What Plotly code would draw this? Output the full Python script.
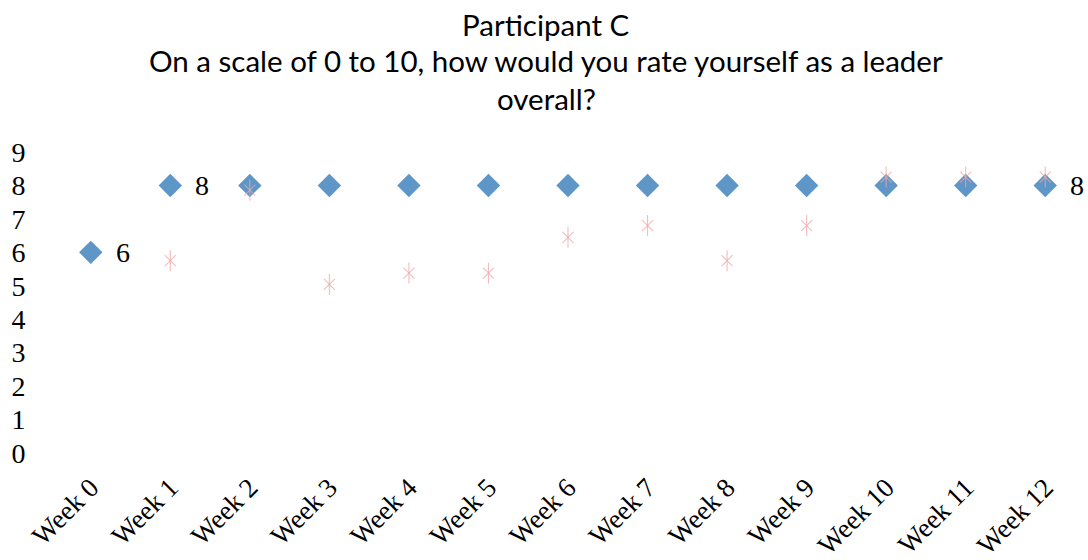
import plotly.graph_objects as go

# Survey responses per week
weeks = ["Week 0", "Week 1", "Week 2", "Week 3", "Week 4", "Week 5", "Week 6",
         "Week 7", "Week 8", "Week 9", "Week 10", "Week 11", "Week 12"]
self_rating = [6, 8, 8, 8, 8, 8, 8, 8, 8, 8, 8, 8, 8]
other_rating = [None, 5.75, 7.86, 5.04, 5.38, 5.38, 6.45, 6.8, 5.75, 6.8, 8.25, 8.25, 8.25]
y_ticks = [0, 1, 2, 3, 4, 5, 6, 7, 8, 9]

title_lines = ["Participant C",
               "On a scale of 0 to 10, how would you rate yourself as a leader",
               "overall?"]

# Value labels only on the first, second and last self-rating points
labelled = [0, 1, 12]

pink = "rgba(240,165,165,0.75)"
blue = "#5F96C8"
serif = "Liberation Serif"

fig = go.Figure()

fig.add_trace(go.Scatter(
    x=weeks, y=self_rating, mode="markers",
    marker=dict(symbol="diamond", size=18, color=blue, line=dict(width=0)),
    showlegend=False, cliponaxis=False,
))
# Asterisk-style marker built from an X and a vertical stroke
fig.add_trace(go.Scatter(
    x=weeks, y=other_rating, mode="markers",
    marker=dict(symbol="x-thin-open", size=11, color=pink,
                line=dict(color=pink, width=1.1)),
    hoverinfo="skip", showlegend=False, cliponaxis=False,
))
fig.add_trace(go.Scatter(
    x=weeks, y=other_rating, mode="markers",
    marker=dict(symbol="line-ns-open", size=15, color=pink,
                line=dict(color=pink, width=1.1)),
    hoverinfo="skip", showlegend=False, cliponaxis=False,
))

for i in labelled:
    fig.add_annotation(
        x=weeks[i], y=self_rating[i], text=str(self_rating[i]),
        showarrow=False, xanchor="center", yanchor="middle", xshift=32,
        font=dict(family=serif, size=28, color="#000000"),
    )

for i, line in enumerate(title_lines):
    fig.add_annotation(
        text=line, xref="paper", yref="paper", x=0.479, y=1, yanchor="middle",
        yshift=[128, 92, 54][i], showarrow=False,
        font=dict(family="Lato", size=29.5, color="#000000"),
    )

fig.update_layout(
    width=1088, height=560,
    margin=dict(l=51, r=3, t=152, b=107),
    paper_bgcolor="white", plot_bgcolor="white",
    xaxis=dict(
        type="category", range=[-0.5, 12.5], tickangle=-45, automargin=False,
        showgrid=False, zeroline=False, showline=False,
        ticks="outside", ticklen=7, tickcolor="white",
        tickfont=dict(family=serif, size=27, color="#000000"),
    ),
    yaxis=dict(
        range=[0, 9], tickvals=y_ticks, automargin=False,
        showgrid=False, zeroline=False, showline=False,
        ticks="outside", ticklen=19, tickcolor="white",
        tickfont=dict(family=serif, size=28, color="#000000"),
    ),
)

fig.write_html("out.html")
